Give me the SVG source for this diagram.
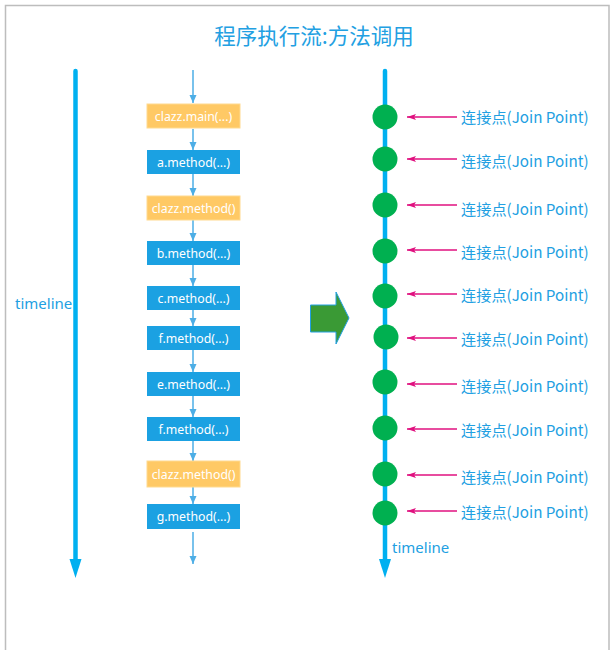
<svg xmlns="http://www.w3.org/2000/svg" width="611" height="650" viewBox="0 0 611 650">
<defs>
<marker id="ab" viewBox="0 0 8 8" refX="8" refY="4" markerWidth="8" markerHeight="8" markerUnits="userSpaceOnUse" orient="auto"><path d="M0,0.5 L8,4 L0,7.5 Z" fill="#4DAEE6"/></marker>
<marker id="ar" viewBox="0 0 9 6" refX="9" refY="3" markerWidth="9" markerHeight="6" markerUnits="userSpaceOnUse" orient="auto"><path d="M0,0 L9,3 L0,6 L2,3 Z" fill="#E0107F"/></marker>
<style>
.blue{fill:#1BA1E2}
.orange{fill:#FFC965;stroke:#FFDA8F;stroke-width:1}
.bt{font-family:"Noto Sans","Noto Sans CJK SC",sans-serif;font-size:12.3px;fill:#fff;text-anchor:middle}
.lbl{font-family:"Noto Sans CJK SC","Noto Sans",sans-serif;font-size:15.2px;fill:#22A0E2}
.tl{font-family:"Noto Sans","Noto Sans CJK SC",sans-serif;font-size:15px;fill:#22A0E2}
.flow{stroke:#4DAEE6;stroke-width:1.5;fill:none;marker-end:url(#ab)}
.jp{stroke:#E0107F;stroke-width:1.3;fill:none;marker-end:url(#ar)}
.dot{fill:#00B050}
</style>
</defs>
<rect x="5.5" y="5.5" width="603.5" height="670" fill="#fff" stroke="#BDBDBD" stroke-width="1.5"/>
<text x="314" y="43.5" text-anchor="middle" font-family="Noto Sans CJK SC,sans-serif" font-size="21.5" fill="#22A0E2">程序执行流:方法调用</text>

<g id="timeline-left">
<line x1="75.5" y1="71" x2="75.5" y2="562" stroke="#00B0F0" stroke-width="4.5" stroke-linecap="round"/>
<path d="M69.5,559 L81.5,559 L75.5,578 Z" fill="#00B0F0"/>
<text class="tl" x="15" y="309">timeline</text>
</g>

<g id="connectors">
<line class="flow" x1="193" y1="70" x2="193" y2="103"/>
<line class="flow" x1="193" y1="129" x2="193" y2="150"/>
<line class="flow" x1="193" y1="174" x2="193" y2="196"/>
<line class="flow" x1="193" y1="220" x2="193" y2="241"/>
<line class="flow" x1="193" y1="265" x2="193" y2="286"/>
<line class="flow" x1="193" y1="310" x2="193" y2="326"/>
<line class="flow" x1="193" y1="350" x2="193" y2="372"/>
<line class="flow" x1="193" y1="396" x2="193" y2="417"/>
<line class="flow" x1="193" y1="441" x2="193" y2="461"/>
<line class="flow" x1="193" y1="487" x2="193" y2="504"/>
<line class="flow" x1="193" y1="532" x2="193" y2="564"/>
<line class="jp" x1="457" y1="117" x2="407" y2="117"/>
<line class="jp" x1="457" y1="159" x2="407" y2="159"/>
<line class="jp" x1="457" y1="205" x2="407" y2="205"/>
<line class="jp" x1="457" y1="250" x2="407" y2="250"/>
<line class="jp" x1="457" y1="294" x2="407" y2="294"/>
<line class="jp" x1="457" y1="338" x2="407" y2="338"/>
<line class="jp" x1="457" y1="384" x2="407" y2="384"/>
<line class="jp" x1="457" y1="429" x2="407" y2="429"/>
<line class="jp" x1="457" y1="475" x2="407" y2="475"/>
<line class="jp" x1="457" y1="511" x2="407" y2="511"/>
</g>

<g id="n1"><rect class="orange" x="147" y="104" width="93" height="24"/><text class="bt" x="193.5" y="120.5">clazz.main(...)</text></g>
<g id="n2"><rect class="blue" x="147" y="150" width="93" height="24"/><text class="bt" x="193.5" y="166.5">a.method(...)</text></g>
<g id="n3"><rect class="orange" x="147" y="196" width="93" height="24"/><text class="bt" x="193.5" y="212.5">clazz.method()</text></g>
<g id="n4"><rect class="blue" x="147" y="241" width="93" height="24"/><text class="bt" x="193.5" y="257.5">b.method(...)</text></g>
<g id="n5"><rect class="blue" x="147" y="286" width="93" height="24"/><text class="bt" x="193.5" y="302.5">c.method(...)</text></g>
<g id="n6"><rect class="blue" x="147" y="326" width="93" height="24"/><text class="bt" x="193.5" y="342.5">f.method(...)</text></g>
<g id="n7"><rect class="blue" x="147" y="372" width="93" height="24"/><text class="bt" x="193.5" y="388.5">e.method(...)</text></g>
<g id="n8"><rect class="blue" x="147" y="417" width="93" height="24"/><text class="bt" x="193.5" y="433.5">f.method(...)</text></g>
<g id="n9"><rect class="orange" x="147" y="461" width="93" height="26"/><text class="bt" x="193.5" y="478.5">clazz.method()</text></g>
<g id="n10"><rect class="blue" x="147" y="504" width="93" height="25"/><text class="bt" x="193.5" y="521">g.method(...)</text></g>

<g id="big-arrow">
<path d="M310.5,305 L336,305 L336,292 L349,318 L336,344 L336,332 L310.5,332 Z" fill="#3A9A35" stroke="#22A0E2" stroke-width="1"/>
</g>

<g id="timeline-right">
<line x1="385" y1="71" x2="385" y2="562" stroke="#00B0F0" stroke-width="4.5" stroke-linecap="round"/>
<path d="M379,559 L391,559 L385,578 Z" fill="#00B0F0"/>
<text class="tl" x="392" y="553">timeline</text>
</g>

<g id="jp1"><circle class="dot" cx="385" cy="117" r="12.5"/><text class="lbl" x="461" y="122.5">连接点(Join Point)</text></g>
<g id="jp2"><circle class="dot" cx="385" cy="159" r="12.5"/><text class="lbl" x="461" y="166.5">连接点(Join Point)</text></g>
<g id="jp3"><circle class="dot" cx="385" cy="205" r="12.5"/><text class="lbl" x="461" y="214.5">连接点(Join Point)</text></g>
<g id="jp4"><circle class="dot" cx="385" cy="251" r="12.5"/><text class="lbl" x="461" y="257.5">连接点(Join Point)</text></g>
<g id="jp5"><circle class="dot" cx="385" cy="296" r="12.5"/><text class="lbl" x="461" y="300.5">连接点(Join Point)</text></g>
<g id="jp6"><circle class="dot" cx="386" cy="337" r="12.5"/><text class="lbl" x="461" y="344.5">连接点(Join Point)</text></g>
<g id="jp7"><circle class="dot" cx="385" cy="382" r="12.5"/><text class="lbl" x="461" y="391.5">连接点(Join Point)</text></g>
<g id="jp8"><circle class="dot" cx="385" cy="428" r="12.5"/><text class="lbl" x="461" y="435.5">连接点(Join Point)</text></g>
<g id="jp9"><circle class="dot" cx="385" cy="474" r="12.5"/><text class="lbl" x="461" y="482.5">连接点(Join Point)</text></g>
<g id="jp10"><circle class="dot" cx="385" cy="513" r="12.5"/><text class="lbl" x="461" y="517.5">连接点(Join Point)</text></g>
</svg>
